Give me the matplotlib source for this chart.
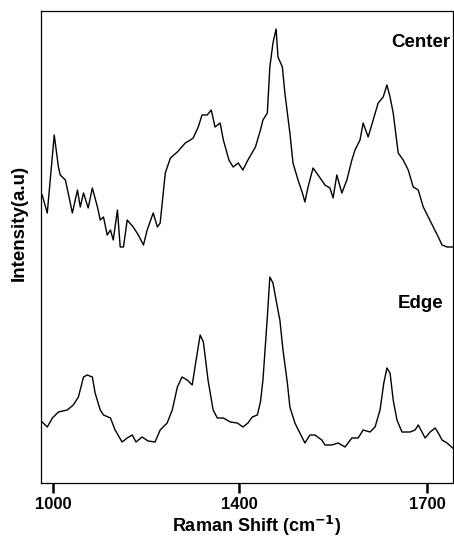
import numpy as np
import matplotlib.pyplot as plt

plt.rcParams['font.family'] = ['Liberation Sans', 'DejaVu Sans']

# Raman shift (cm-1) and intensity of the two spectra
center_shift = [976, 987, 1002, 1011, 1015, 1026, 1032, 1041, 1052, 1058, 1065, 1075,
                1084, 1095, 1101, 1108, 1116, 1123, 1129, 1138, 1144, 1151, 1159, 1172,
                1183, 1194, 1202, 1215, 1224, 1230, 1241, 1252, 1267, 1284, 1295, 1301,
                1312, 1320, 1331, 1340, 1348, 1359, 1366, 1378, 1387, 1398, 1406, 1414,
                1426, 1434, 1438, 1445, 1449, 1454, 1459, 1462, 1469, 1473, 1481, 1486,
                1494, 1501, 1505, 1510, 1518, 1526, 1537, 1545, 1550, 1556, 1564, 1572,
                1580, 1585, 1593, 1598, 1606, 1614, 1622, 1630, 1636, 1641, 1646, 1654,
                1662, 1670, 1678, 1686, 1694, 1702, 1710, 1718, 1724, 1732, 1741]
center_int = [288, 270, 348, 316, 308, 303, 290, 270, 293, 276, 290, 275,
              295, 276, 263, 266, 248, 253, 243, 273, 236, 236, 263, 256,
              248, 238, 253, 270, 256, 260, 310, 325, 331, 340, 343, 345,
              356, 368, 368, 373, 356, 360, 343, 323, 316, 320, 313, 323,
              336, 353, 363, 370, 416, 440, 454, 426, 416, 390, 350, 320,
              303, 290, 281, 296, 315, 308, 298, 295, 285, 308, 290, 303,
              323, 333, 343, 360, 346, 363, 380, 386, 398, 386, 370, 330,
              323, 313, 296, 293, 276, 266, 256, 246, 238, 236, 236]

edge_shift = [976, 987, 998, 1011, 1030, 1043, 1054, 1065, 1073, 1084, 1090, 1101,
              1108, 1123, 1133, 1148, 1159, 1170, 1178, 1191, 1204, 1219, 1230, 1245,
              1256, 1267, 1277, 1288, 1299, 1305, 1316, 1323, 1333, 1344, 1353, 1366,
              1381, 1396, 1406, 1414, 1421, 1429, 1434, 1438, 1445, 1449, 1454, 1461,
              1465, 1470, 1477, 1481, 1489, 1497, 1505, 1513, 1521, 1532, 1537, 1548,
              1558, 1569, 1580, 1590, 1598, 1609, 1617, 1625, 1631, 1636, 1641, 1646,
              1652, 1660, 1673, 1681, 1686, 1692, 1697, 1705, 1713, 1718, 1724, 1732,
              1741]
edge_int = [61, 56, 65, 71, 73, 78, 86, 106, 108, 106, 90, 73,
            68, 65, 53, 41, 45, 48, 41, 46, 42, 41, 53, 60,
            73, 96, 106, 103, 98, 116, 148, 141, 103, 73, 65, 65,
            61, 60, 56, 60, 66, 68, 81, 103, 166, 206, 200, 176,
            163, 133, 100, 76, 60, 50, 40, 48, 48, 43, 38, 38,
            40, 36, 45, 45, 53, 51, 56, 73, 100, 115, 110, 83,
            63, 51, 51, 53, 58, 51, 45, 51, 55, 50, 43, 40,
            35]

x_ticks = [1000, 1400, 1700]

# the shift axis is stretched differently below and above 1400 cm-1
lo_gain, hi_gain = 0.465, 0.6267


def fwd(x):
    x = np.asarray(x, dtype=float)
    return np.where(x < 1400, (x - 1400) * lo_gain, (x - 1400) * hi_gain)


def inv(p):
    p = np.asarray(p, dtype=float)
    return np.where(p < 0, p / lo_gain + 1400, p / hi_gain + 1400)


fig = plt.figure(figsize=(4.54, 5.37), dpi=100)
ax = fig.add_axes([41 / 454, 54 / 537, 412 / 454, 472 / 537])
ax.set_xscale('function', functions=(fwd, inv))

ax.plot(center_shift, center_int, color='black', lw=1.0)
ax.plot(edge_shift, edge_int, color='black', lw=1.0)

ax.set_xlim(973.5, 1741.5)
ax.set_ylim(0, 472)
ax.set_xticks(x_ticks)
ax.set_xticklabels([str(t) for t in x_ticks])
ax.minorticks_off()
ax.set_yticks([])
ax.tick_params(axis='x', direction='out', length=7, width=1.8, pad=3,
               labelsize=12)
for lab in ax.get_xticklabels():
    lab.set_fontweight('bold')
for s in ax.spines.values():
    s.set_linewidth(0.9)

ax.text(0.993, 0.934, 'Center', transform=ax.transAxes, ha='right', va='center',
        fontsize=13.5, fontweight='bold')
ax.text(0.976, 0.381, 'Edge', transform=ax.transAxes, ha='right', va='center',
        fontsize=13.5, fontweight='bold')

ax.set_xlabel('Raman Shift (cm$^{\\mathbf{-1}}$)', fontsize=13, fontweight='bold')
ax.set_ylabel('Intensity(a.u)', fontsize=13.5, fontweight='bold')
ax.xaxis.set_label_coords(0.524, -0.066)
ax.yaxis.set_label_coords(-0.032, 0.55)

fig.savefig('out.png', dpi=100)
